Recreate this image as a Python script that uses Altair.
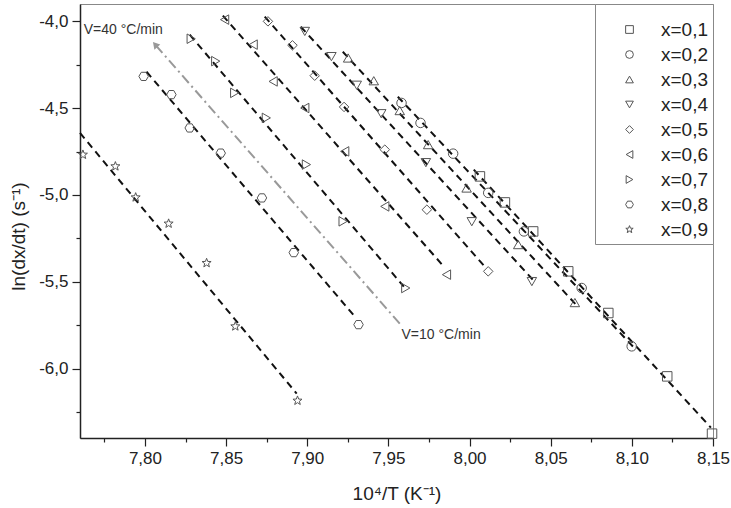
import math
import altair as alt
import pandas as pd

labels = ["x=0,1", "x=0,2", "x=0,3", "x=0,4", "x=0,5", "x=0,6", "x=0,7", "x=0,8", "x=0,9"]

x01 = [8.0064, 8.0218, 8.0392, 8.0608, 8.0855, 8.1218, 8.1494]
y01 = [-4.893, -5.043, -5.210, -5.440, -5.680, -6.045, -6.375]
x02 = [7.9581, 7.9698, 7.9899, 8.0115, 8.0335, 8.0691, 8.0999]
y02 = [-4.470, -4.585, -4.762, -4.988, -5.210, -5.536, -5.872]
x03 = [7.9252, 7.9410, 7.9570, 7.9745, 7.9982, 8.0300, 8.0649]
y03 = [-4.211, -4.342, -4.514, -4.710, -4.960, -5.286, -5.620]
x04 = [7.8985, 7.9149, 7.9305, 7.9456, 7.9731, 8.0014, 8.0384]
y04 = [-4.058, -4.203, -4.368, -4.532, -4.814, -5.154, -5.499]
x05 = [7.8758, 7.8909, 7.9046, 7.9227, 7.9478, 7.9737, 8.0115]
y05 = [-4.000, -4.138, -4.313, -4.493, -4.739, -5.085, -5.440]
x06 = [7.8491, 7.8667, 7.8790, 7.8985, 7.9231, 7.9478, 7.9858]
y06 = [-3.990, -4.134, -4.346, -4.499, -4.749, -5.066, -5.459]
x07 = [7.8285, 7.8436, 7.8553, 7.8748, 7.8995, 7.9221, 7.9607]
y07 = [-4.100, -4.229, -4.412, -4.556, -4.825, -5.152, -5.536]
x08 = [7.7992, 7.8163, 7.8276, 7.8467, 7.8721, 7.8917, 7.9316]
y08 = [-4.317, -4.422, -4.614, -4.759, -5.017, -5.332, -5.747]
x09 = [7.7618, 7.7818, 7.7943, 7.8146, 7.8380, 7.8557, 7.8940]
y09 = [-4.768, -4.835, -5.014, -5.165, -5.392, -5.757, -6.185]

# fitted-line end points (one per series, same order as labels)
line_x0 = [8.0026, 7.9558, 7.9219, 7.8960, 7.8738, 7.8480, 7.8276, 7.8010, 7.7600]
line_y0 = [-4.854, -4.434, -4.175, -4.031, -3.973, -3.967, -4.077, -4.290, -4.643]
line_x1 = [8.1487, 8.1025, 8.0662, 8.0390, 8.0100, 7.9842, 7.9595, 7.9299, 7.8935]
line_y1 = [-6.340, -5.891, -5.638, -5.488, -5.419, -5.413, -5.528, -5.707, -6.144]

# heating-rate arrow (tail -> head) and annotations
arrow_x = [7.9570, 7.8063]
arrow_y = [-5.741, -4.134]
note_text = ["V=40 °C/min", "V=10 °C/min"]
note_x = [7.7623, 7.9581]
note_y = [-4.048, -5.809]

x_ticks = [7.775, 7.80, 7.825, 7.85, 7.875, 7.90, 7.925, 7.95, 7.975, 8.00,
           8.025, 8.05, 8.075, 8.10, 8.125, 8.15]
y_ticks = [-6.25, -6.0, -5.75, -5.5, -5.25, -5.0, -4.75, -4.5, -4.25, -4.0]

hexagon = "M-1,0 L-0.5,-0.866 L0.5,-0.866 L1,0 L0.5,0.866 L-0.5,0.866 Z"
star_pts = []
for i in range(10):
    r = 1.0 if i % 2 == 0 else 0.42
    a = -math.pi / 2 + i * math.pi / 5
    star_pts.append(f"{r * math.cos(a):.3f},{r * math.sin(a):.3f}")
star = "M" + " L".join(star_pts) + " Z"
shapes = ["square", "circle", "triangle-up", "triangle-down", "diamond",
          "triangle-left", "triangle-right", hexagon, star]

xs = [x01, x02, x03, x04, x05, x06, x07, x08, x09]
ys = [y01, y02, y03, y04, y05, y06, y07, y08, y09]
rows = []
for lab, xv, yv in zip(labels, xs, ys):
    for a, b in zip(xv, yv):
        rows.append({"x": a, "y": b, "series": lab})
pts = pd.DataFrame(rows)
lines = pd.DataFrame({"x": line_x0, "y": line_y0, "x2": line_x1, "y2": line_y1, "series": labels})
arrow = pd.DataFrame({"x": [arrow_x[0]], "y": [arrow_y[0]], "x2": [arrow_x[1]], "y2": [arrow_y[1]]})
head = pd.DataFrame({"x": [arrow_x[1]], "y": [arrow_y[1]]})
notes = pd.DataFrame({"x": note_x, "y": note_y, "text": note_text})

FONT = "Liberation Sans"
xscale = alt.Scale(domain=[7.76, 8.15], nice=False, zero=False)
yscale = alt.Scale(domain=[-6.4, -3.9], nice=False, zero=False)

xmajor = "abs(datum.value*20 - round(datum.value*20)) < 0.001"
ymajor = "abs(datum.value*2 - round(datum.value*2)) < 0.001"

xaxis = alt.Axis(
    values=x_ticks,
    labelExpr=f"({xmajor}) ? replace(format(datum.value, '.2f'), '.', ',') : ''",
    tickSize={"condition": {"test": xmajor, "value": 8}, "value": 4},
    labelPadding=4, labelOverlap=False, labelFlush=False,
    title="10⁴/T (K⁻¹)", titleY=55, titleBaseline="middle",
)
yaxis = alt.Axis(
    values=y_ticks,
    labelExpr=f"({ymajor}) ? replace(replace(format(datum.value, '.1f'), '.', ','), '\u2212', '-') : ''",
    tickSize={"condition": {"test": ymajor, "value": 8}, "value": 4},
    labelPadding=4, labelOverlap=False, labelFlush=False,
    title="ln(dx/dt) (s⁻¹)", titleX=-62, titleY=232, titleAngle=270, titleBaseline="middle",
)

fit_lines = alt.Chart(lines).mark_rule(color="#111", strokeWidth=2, strokeDash=[7, 5]).encode(
    x=alt.X("x:Q", scale=xscale, axis=xaxis),
    y=alt.Y("y:Q", scale=yscale, axis=yaxis),
    x2="x2:Q", y2="y2:Q",
)
arrow_line = alt.Chart(arrow).mark_rule(color="#999", strokeWidth=2, strokeDash=[10, 4, 2, 4]).encode(
    x="x:Q", y="y:Q", x2="x2:Q", y2="y2:Q"
)
arrow_head = alt.Chart(head).mark_point(shape="triangle-up", angle=319, size=60, filled=True,
                                        color="#999", opacity=1).encode(x="x:Q", y="y:Q")
points = alt.Chart(pts).mark_point(filled=False, size=90, strokeWidth=1, color="#555", opacity=1).encode(
    x="x:Q", y="y:Q",
    shape=alt.Shape("series:N", scale=alt.Scale(domain=labels, range=shapes),
                    legend=alt.Legend(orient="top-right", title=" ", titleFontSize=12, titlePadding=0,
                                      padding=4, symbolOffset=21, labelOffset=22, rowPadding=5, offset=0,
                                      symbolSize=60, labelFontSize=19, labelFont=FONT, labelColor="#222",
                                      strokeColor="#888", fillColor="white",
                                      symbolStrokeColor="#555", symbolFillColor="white",
                                      symbolStrokeWidth=1)),
)
texts = alt.Chart(notes).mark_text(font=FONT, fontSize=14, color="#333", align="left",
                                   baseline="middle").encode(x="x:Q", y="y:Q", text="text:N")

chart = alt.layer(fit_lines, arrow_line, arrow_head, points, texts).properties(
    width=633, height=434, autosize="none",
    padding={"left": 80, "top": 4, "right": 18, "bottom": 70},
).configure_view(stroke="#888", strokeWidth=1).configure_axis(
    domainColor="#222", domainWidth=1.5, tickColor="#222", tickWidth=1.2,
    labelFont=FONT, labelFontSize=17, labelColor="#222",
    titleFont=FONT, titleFontSize=19, titleColor="#222", titleFontWeight="normal", grid=False,
)

chart.save("out.html", embed_options={"renderer": "svg", "actions": False})
